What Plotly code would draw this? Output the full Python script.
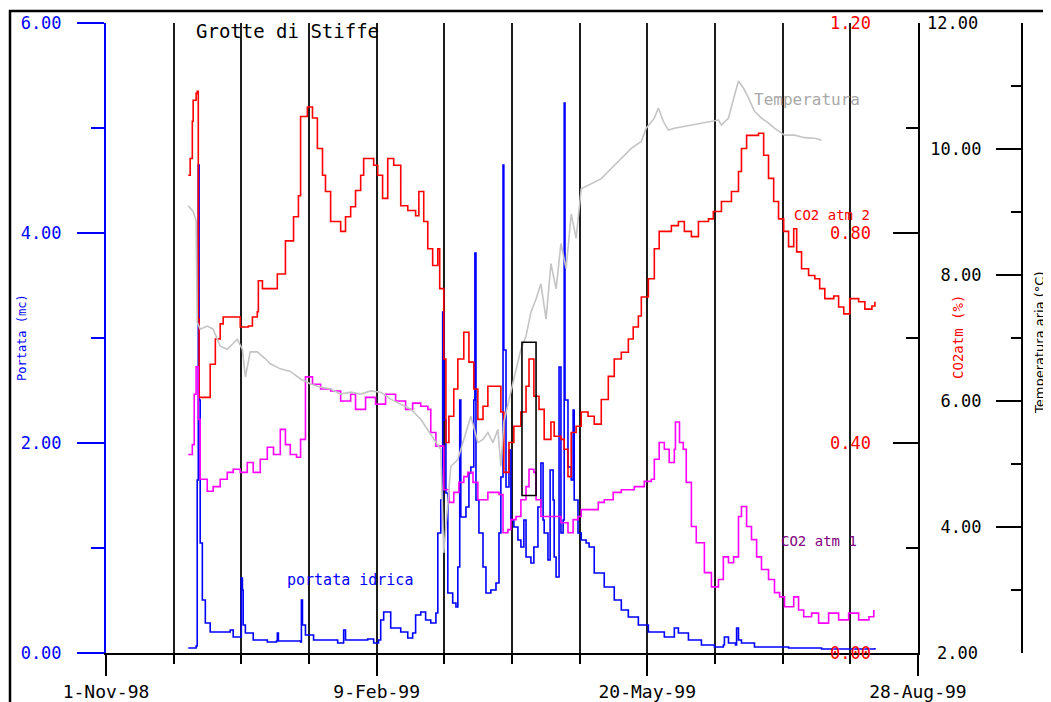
import pandas as pd
import plotly.graph_objects as go

START = "1998-11-01"
END = "1999-08-28 01:00"
MONO = "DejaVu Sans Mono"

# ---- Data (day offsets from 1-Nov-98) ----
portata_days = [30.4, 33.3, 33.7, 34.1, 34.4, 34.8, 35.6, 36.7, 38.5, 44.8,
                45.9, 47.0, 49.6, 50.0, 50.4, 50.7, 51.5, 54.4, 59.6, 63.0,
                63.3, 63.7, 71.9, 72.2, 72.6, 73.7, 76.7, 85.6, 87.8, 88.5,
                96.7, 98.9, 100.7, 101.5, 102.6, 105.2, 108.9, 111.5, 113.3, 114.4,
                116.3, 118.1, 120.0, 121.9, 122.6, 123.7, 124.4, 124.8, 125.6, 126.3,
                128.1, 129.3, 130.0, 130.7, 131.1, 133.0, 134.1, 134.8, 135.9, 136.3,
                136.7, 137.8, 139.3, 140.4, 142.2, 144.1, 145.2, 145.9, 146.7, 147.0,
                147.8, 148.9, 149.6, 150.7, 152.2, 153.3, 154.4, 155.2, 157.0, 158.1,
                159.6, 160.7, 161.5, 161.9, 163.3, 164.1, 165.2, 165.6, 166.3, 167.4,
                168.1, 168.9, 169.3, 169.6, 170.7, 171.9, 172.6, 173.0, 174.4, 175.6,
                177.4, 178.5, 180.4, 184.1, 187.8, 190.4, 193.0, 196.7, 200.4, 204.1,
                206.3, 210.0, 211.5, 215.2, 220.0, 224.8, 228.1, 228.5, 230.0, 232.6,
                233.0, 233.7, 234.8, 239.6, 252.2, 264.4, 284.1]
portata_vals = [0.048, 0.067, 1.648, 4.648, 2.410, 1.048, 0.505, 0.286, 0.200, 0.200,
                0.219, 0.152, 0.152, 0.714, 0.600, 0.267, 0.190, 0.124, 0.105, 0.114,
                0.190, 0.114, 0.105, 0.505, 0.267, 0.171, 0.124, 0.095, 0.219, 0.124,
                0.133, 0.095, 0.124, 0.314, 0.390, 0.238, 0.200, 0.143, 0.190, 0.362,
                0.390, 0.314, 0.286, 0.381, 1.143, 1.457, 3.248, 2.219, 1.524, 0.571,
                0.476, 0.438, 0.819, 2.410, 1.295, 1.390, 1.714, 1.771, 2.410, 3.810,
                1.457, 1.143, 0.819, 0.571, 0.600, 0.667, 1.143, 1.676, 4.648, 2.886,
                1.581, 1.933, 1.267, 1.200, 1.076, 1.010, 1.267, 0.914, 0.857, 1.010,
                1.390, 1.810, 1.267, 1.143, 0.886, 1.743, 1.457, 0.914, 0.724, 2.724,
                1.143, 1.267, 5.238, 2.410, 1.771, 1.648, 2.314, 1.457, 1.143, 1.076,
                1.048, 1.010, 0.762, 0.629, 0.505, 0.410, 0.343, 0.267, 0.200, 0.200,
                0.152, 0.238, 0.190, 0.124, 0.076, 0.057, 0.076, 0.152, 0.095, 0.076,
                0.238, 0.124, 0.095, 0.057, 0.048, 0.038, 0.048]

co2_2_days = [30.4, 31.1, 31.9, 32.2, 33.3, 33.7, 34.1, 34.4, 37.0, 38.5,
              40.4, 42.2, 43.3, 48.9, 49.6, 52.6, 54.1, 55.9, 56.3, 57.8,
              61.5, 63.3, 66.3, 69.3, 71.1, 71.9, 74.4, 76.3, 78.1, 80.0,
              81.1, 83.0, 86.7, 88.5, 90.4, 92.2, 94.1, 95.2, 98.9, 100.4,
              102.2, 104.1, 106.3, 108.9, 111.5, 114.4, 115.6, 117.4, 118.9, 120.7,
              122.6, 123.3, 124.8, 125.6, 126.7, 128.5, 130.0, 132.2, 134.1, 135.9,
              137.4, 139.3, 141.1, 144.1, 145.9, 147.0, 148.9, 150.7, 153.3, 155.2,
              156.3, 158.1, 160.0, 161.9, 164.4, 165.6, 168.1, 169.3, 170.7, 171.9,
              173.7, 175.6, 178.1, 180.4, 183.0, 185.6, 187.8, 190.4, 193.0, 194.8,
              196.7, 197.8, 200.4, 202.6, 204.4, 208.9, 211.5, 213.7, 216.3, 218.9,
              222.6, 224.4, 227.4, 231.1, 233.7, 234.8, 236.7, 241.1, 243.0, 244.8,
              246.7, 248.5, 250.4, 252.2, 254.1, 255.2, 257.0, 259.6, 261.9, 263.7,
              265.6, 268.9, 270.7, 272.6, 274.8, 278.1, 280.4, 283.0, 284.1]
co2_2_vals = [0.910, 0.942, 1.013, 1.053, 1.066, 1.070, 0.636, 0.487, 0.487, 0.550,
              0.598, 0.627, 0.640, 0.640, 0.621, 0.623, 0.640, 0.650, 0.709, 0.694,
              0.694, 0.722, 0.785, 0.831, 0.871, 1.022, 1.040, 1.019, 0.961, 0.910,
              0.879, 0.822, 0.803, 0.831, 0.850, 0.881, 0.910, 0.942, 0.929, 0.910,
              0.866, 0.942, 0.929, 0.852, 0.843, 0.833, 0.879, 0.822, 0.770, 0.738,
              0.770, 0.694, 0.560, 0.401, 0.451, 0.503, 0.560, 0.611, 0.554, 0.503,
              0.445, 0.470, 0.508, 0.508, 0.459, 0.344, 0.401, 0.432, 0.459, 0.508,
              0.560, 0.489, 0.464, 0.407, 0.440, 0.413, 0.407, 0.388, 0.336, 0.420,
              0.432, 0.459, 0.451, 0.436, 0.483, 0.527, 0.560, 0.573, 0.598, 0.621,
              0.642, 0.678, 0.713, 0.770, 0.803, 0.814, 0.822, 0.803, 0.793, 0.822,
              0.827, 0.841, 0.860, 0.879, 0.917, 0.961, 0.986, 0.990, 0.948, 0.904,
              0.860, 0.827, 0.803, 0.774, 0.808, 0.764, 0.732, 0.719, 0.713, 0.694,
              0.675, 0.680, 0.659, 0.646, 0.675, 0.669, 0.655, 0.661, 0.669]

co2_1_days = [30.4, 31.9, 32.6, 33.3, 34.1, 34.8, 37.4, 39.6, 42.2, 44.8,
              47.0, 49.6, 52.2, 54.4, 57.0, 59.6, 61.9, 64.4, 66.3, 68.1,
              70.4, 71.9, 73.7, 76.3, 79.3, 83.0, 86.7, 90.4, 92.2, 95.9,
              99.6, 103.3, 107.0, 110.7, 113.3, 116.3, 118.9, 120.0, 121.9, 123.7,
              124.8, 126.7, 128.5, 130.4, 132.2, 133.7, 135.6, 137.4, 141.1, 145.2,
              146.7, 148.5, 149.6, 151.5, 153.3, 155.2, 156.3, 158.1, 158.9, 160.7,
              165.6, 168.1, 170.7, 172.6, 174.4, 175.6, 179.3, 181.9, 184.1, 187.4,
              190.4, 195.2, 198.9, 201.5, 202.6, 204.4, 206.3, 208.1, 210.0, 210.4,
              211.9, 213.3, 214.4, 216.3, 218.1, 221.1, 223.7, 226.3, 228.1, 230.0,
              231.9, 233.7, 234.8, 236.7, 238.5, 240.4, 242.2, 244.8, 247.0, 248.9,
              250.7, 254.1, 255.9, 257.8, 260.7, 263.3, 267.0, 270.7, 274.4, 278.1,
              281.9, 283.7]
co2_1_vals = [0.378, 0.397, 0.493, 0.545, 0.445, 0.331, 0.308, 0.317, 0.331, 0.344,
              0.350, 0.344, 0.363, 0.344, 0.369, 0.392, 0.378, 0.426, 0.397, 0.378,
              0.373, 0.407, 0.526, 0.512, 0.503, 0.499, 0.480, 0.493, 0.464, 0.487,
              0.474, 0.493, 0.480, 0.464, 0.476, 0.470, 0.464, 0.420, 0.394, 0.394,
              0.311, 0.287, 0.306, 0.325, 0.336, 0.344, 0.325, 0.292, 0.306, 0.302,
              0.229, 0.235, 0.254, 0.260, 0.292, 0.317, 0.350, 0.344, 0.292, 0.260,
              0.260, 0.248, 0.229, 0.254, 0.260, 0.273, 0.273, 0.287, 0.292, 0.306,
              0.311, 0.317, 0.327, 0.331, 0.369, 0.401, 0.388, 0.363, 0.388, 0.440,
              0.401, 0.388, 0.325, 0.241, 0.210, 0.153, 0.126, 0.140, 0.183, 0.172,
              0.183, 0.260, 0.279, 0.241, 0.216, 0.183, 0.159, 0.140, 0.115, 0.107,
              0.088, 0.107, 0.082, 0.069, 0.076, 0.057, 0.076, 0.063, 0.076, 0.063,
              0.069, 0.082]

temp_days = [30.4, 32.2, 33.3, 33.7, 34.8, 37.4, 39.6, 42.2, 44.8, 48.5,
             50.4, 51.5, 53.3, 55.9, 58.9, 60.7, 64.4, 68.1, 71.9, 75.6,
             79.3, 83.0, 86.7, 90.4, 94.1, 97.8, 101.5, 105.2, 108.9, 112.6,
             116.3, 120.0, 123.7, 124.8, 127.4, 130.0, 132.2, 134.8, 137.4, 139.3,
             141.1, 143.0, 144.8, 145.9, 147.0, 148.9, 150.7, 153.3, 155.2, 157.0,
             158.9, 160.7, 162.6, 164.4, 166.3, 168.1, 170.0, 171.9, 173.7, 175.6,
             179.3, 183.0, 186.7, 190.4, 194.1, 197.8, 199.6, 202.6, 204.1, 205.9,
             207.8, 210.0, 216.3, 222.6, 226.3, 227.4, 230.0, 232.2, 233.7, 235.6,
             237.4, 239.6, 242.2, 244.8, 247.0, 250.7, 254.4, 258.1, 261.9, 264.4]
temp_vals = [9.10, 9.01, 8.86, 7.25, 7.14, 7.19, 7.14, 6.87, 6.82, 6.98,
             6.82, 6.38, 6.78, 6.78, 6.67, 6.59, 6.51, 6.47, 6.35, 6.27,
             6.22, 6.19, 6.11, 6.14, 6.11, 6.16, 6.14, 6.03, 5.95, 5.87,
             5.71, 5.47, 5.23, 3.59, 4.96, 5.07, 5.39, 5.76, 5.34, 5.39,
             5.50, 5.34, 5.55, 4.96, 5.66, 6.03, 6.35, 6.82, 7.03, 7.41,
             7.62, 7.86, 7.30, 8.18, 7.78, 8.50, 8.10, 8.97, 8.58, 9.37,
             9.45, 9.53, 9.69, 9.85, 10.01, 10.12, 10.33, 10.49, 10.65, 10.44,
             10.30, 10.33, 10.38, 10.44, 10.46, 10.38, 10.49, 10.85, 11.08, 10.96,
             10.81, 10.60, 10.49, 10.41, 10.33, 10.22, 10.22, 10.18, 10.17, 10.14]

# highlighted window (days) and its portata span
highlight_days = [153.7, 158.9]
highlight_portata = [1.50, 2.96]

x_tick_labels = ["1-Nov-98", "9-Feb-99", "20-May-99", "28-Aug-99"]
portata_ticks = [0, 2, 4, 6]
co2_ticks = [0.0, 0.4, 0.8, 1.2]
temp_ticks = [2, 4, 6, 8, 10, 12]

t0 = pd.Timestamp(START)


def to_dates(days):
    return [t0 + pd.Timedelta(days=d) for d in days]


fig = go.Figure()
fig.add_trace(go.Scatter(x=to_dates(temp_days), y=temp_vals, yaxis="y3", mode="lines",
                         line=dict(color="#c4c4c4", width=1.6), name="Temperatura"))
fig.add_trace(go.Scatter(x=to_dates(co2_2_days), y=co2_2_vals, yaxis="y2", mode="lines",
                         line=dict(color="#ff0000", width=1.6, shape="hv"), name="CO2 atm 2"))
fig.add_trace(go.Scatter(x=to_dates(co2_1_days), y=co2_1_vals, yaxis="y2", mode="lines",
                         line=dict(color="#ff00ff", width=1.6, shape="hv"), name="CO2 atm 1"))
fig.add_trace(go.Scatter(x=to_dates(portata_days), y=portata_vals, yaxis="y", mode="lines",
                         line=dict(color="#0000ff", width=1.6, shape="hv"), name="portata idrica"))

hd = to_dates(highlight_days)
fig.add_shape(type="rect", xref="x", yref="y", x0=hd[0], x1=hd[1],
              y0=highlight_portata[0], y1=highlight_portata[1],
              line=dict(color="black", width=1.6), fillcolor="rgba(0,0,0,0)")

# outer frame
fig.add_shape(type="rect", xref="paper", yref="paper", x0=-0.1048, x1=1.06, y0=-0.15, y1=1.019,
              line=dict(color="black", width=2.5), layer="below")

GRID = "#1c1c1c"
x_ticks = [t0 + pd.Timedelta(days=100 * k) for k in range(4)]
fig.update_layout(
    width=1043, height=694, template="none", showlegend=False,
    paper_bgcolor="white", plot_bgcolor="white",
    margin=dict(l=98, r=29, t=15, b=49),
    font=dict(family=MONO, color="black"),
    xaxis=dict(domain=[0, 0.8865], type="date", range=[START, END],
               tickmode="array", tickvals=x_ticks, ticktext=x_tick_labels,
               ticks="outside", ticklen=21, tickwidth=2, tickcolor="black",
               showline=True, linecolor="black", linewidth=2,
               showgrid=True, gridcolor=GRID, gridwidth=2, zeroline=False,
               tickfont=dict(family=MONO, size=18, color="black"),
               minor=dict(dtick=25 * 86400000, tick0=START, ticks="outside", ticklen=9,
                          tickwidth=2, tickcolor="black", showgrid=True,
                          gridcolor=GRID, gridwidth=2)),
    yaxis=dict(range=[0, 6], tickmode="array", tickvals=portata_ticks,
               ticktext=[f"{v:.2f}" for v in portata_ticks],
               ticks="outside", ticklen=27, tickwidth=2, tickcolor="#0000ff",
               showline=True, linecolor="#0000ff", linewidth=2,
               showgrid=False, zeroline=False, ticklabelstandoff=12,
               tickfont=dict(family=MONO, size=17, color="#0000ff"),
               minor=dict(tickmode="array", tickvals=[1, 3, 5], ticks="outside",
                          ticklen=13, tickwidth=2, tickcolor="#0000ff")),
    yaxis2=dict(overlaying="y", side="right", anchor="x", range=[0, 1.2],
                tickmode="array", tickvals=co2_ticks, showticklabels=False,
                ticks="inside", ticklen=25, tickwidth=2, tickcolor="black",
                showline=True, linecolor="black", linewidth=2,
                showgrid=False, zeroline=False,
                minor=dict(tickmode="array", tickvals=[0.2, 0.6, 1.0], ticks="inside",
                           ticklen=12, tickwidth=2, tickcolor="black")),
    yaxis3=dict(overlaying="y", side="right", anchor="free", position=1.0, range=[2, 12],
                tickmode="array", tickvals=temp_ticks,
                ticktext=[f"{v:.2f}" for v in temp_ticks],
                ticks="inside", ticklen=25, tickwidth=2, tickcolor="black",
                ticklabelposition="inside", ticklabelstandoff=15,
                showline=True, linecolor="black", linewidth=2,
                showgrid=False, zeroline=False,
                tickfont=dict(family=MONO, size=17, color="black"),
                minor=dict(tickmode="array", tickvals=[3, 5, 7, 9, 11], ticks="inside",
                           ticklen=10, tickwidth=2, tickcolor="black")),
)

# CO2 axis tick labels (placed left of the inside ticks, as in the original)
for v in co2_ticks:
    fig.add_annotation(text=f"{v:.2f}", x=0.8373, y=v, xref="paper", yref="y2",
                       showarrow=False, xanchor="right", yanchor="middle",
                       font=dict(family=MONO, size=17, color="#ff0000"))
# end-of-range temperature labels (plotly hides inside labels at the edges)
for v in (temp_ticks[0], temp_ticks[-1]):
    fig.add_annotation(text=f"{v:.2f}", x=0.9541, y=v, xref="paper", yref="y3",
                       showarrow=False, xanchor="right", yanchor="middle",
                       font=dict(family=MONO, size=17, color="black"))

ann = [
    dict(text="Grotte di Stiffe", x=0.1976, y=0.9873, size=19, color="black", angle=0, fam=MONO),
    dict(text="Temperatura", x=0.7653, y=0.8778, size=16, color="#a8a8a8", angle=0, fam=MONO),
    dict(text="CO2 atm 2", x=0.7926, y=0.6952, size=14, color="#ff0000", angle=0, fam=MONO),
    dict(text="CO2 atm 1", x=0.7784, y=0.1778, size=14, color="#800080", angle=0, fam=MONO),
    dict(text="portata idrica", x=0.2664, y=0.1159, size=15, color="#0000ff", angle=0, fam=MONO),
    dict(text="Portata (mc)", x=-0.0917, y=0.5, size=12, color="#0000ff", angle=-90, fam=MONO),
    dict(text="CO2atm (%)", x=0.9301, y=0.5016, size=14, color="#ff0000", angle=-90, fam=MONO),
    dict(text="Temperatura aria (°C)", x=1.0185, y=0.492, size=13, color="black", angle=-90,
         fam="DejaVu Sans"),
]
for a in ann:
    fig.add_annotation(text=a["text"], x=a["x"], y=a["y"], xref="paper", yref="paper",
                       showarrow=False, textangle=a["angle"], xanchor="center", yanchor="middle",
                       font=dict(family=a["fam"], size=a["size"], color=a["color"]))

fig.write_html("out.html")
